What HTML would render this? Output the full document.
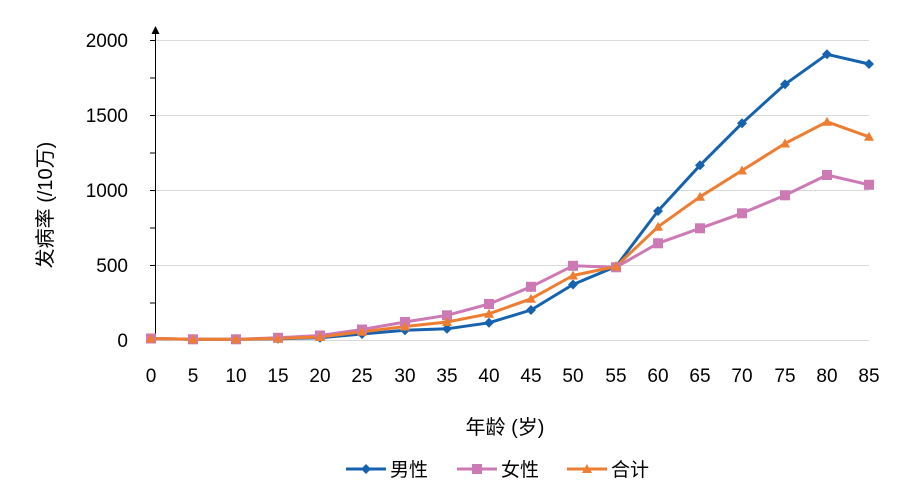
<!DOCTYPE html>
<html><head><meta charset="utf-8"><style>
body{margin:0;background:#fff;}
svg text{font-family:"Liberation Sans","Noto Sans CJK SC",sans-serif;fill:#000;}
</style></head><body>
<svg width="904" height="491" viewBox="0 0 904 491" xmlns="http://www.w3.org/2000/svg">
<rect width="904" height="491" fill="#fff"/>
<g stroke="#d9d9d9" stroke-width="1">
<line x1="155" y1="40.5" x2="869" y2="40.5"/>
<line x1="155" y1="115.5" x2="869" y2="115.5"/>
<line x1="155" y1="190.5" x2="869" y2="190.5"/>
<line x1="155" y1="265.5" x2="869" y2="265.5"/>
<line x1="155" y1="340.5" x2="869" y2="340.5"/>
</g>
<g stroke="#000" stroke-width="1">
<line x1="155.5" y1="30" x2="155.5" y2="340"/>
<line x1="150" y1="40.5" x2="155" y2="40.5"/>
<line x1="150" y1="78" x2="155" y2="78"/>
<line x1="150" y1="115.5" x2="155" y2="115.5"/>
<line x1="150" y1="153" x2="155" y2="153"/>
<line x1="150" y1="190.5" x2="155" y2="190.5"/>
<line x1="150" y1="228" x2="155" y2="228"/>
<line x1="150" y1="265.5" x2="155" y2="265.5"/>
<line x1="150" y1="303" x2="155" y2="303"/>
</g>
<path d="M151.5,34 L155.5,26 L159.5,34 Z" fill="#000"/>
<g font-size="19" text-anchor="end">
<text x="128" y="47">2000</text><text x="128" y="122">1500</text><text x="128" y="197">1000</text><text x="128" y="272">500</text><text x="128" y="347">0</text>
</g>
<g font-size="19" text-anchor="middle">
<text x="151" y="382">0</text><text x="193" y="382">5</text><text x="236" y="382">10</text><text x="278" y="382">15</text><text x="320" y="382">20</text><text x="362" y="382">25</text><text x="405" y="382">30</text><text x="447" y="382">35</text><text x="489" y="382">40</text><text x="531" y="382">45</text><text x="573" y="382">50</text><text x="616" y="382">55</text><text x="658" y="382">60</text><text x="700" y="382">65</text><text x="742" y="382">70</text><text x="785" y="382">75</text><text x="827" y="382">80</text><text x="869" y="382">85</text>
</g>
<text x="505" y="434" font-size="20" text-anchor="middle">年龄 (岁)</text>
<text transform="translate(52,205) rotate(-90)" font-size="20" text-anchor="middle">发病率 (/10万)</text>
<g fill="none" stroke-width="3" stroke-linejoin="round">
<polyline stroke="#1662AE" points="151,338.5 193,339.3 236,339.3 278,338.8 320,337.8 362,334 405,330.3 447,328.8 489,322.8 531,310 573,284.5 616,266.5 658,211 700,165.3 742,123.3 785,84.3 827,54.3 869,64"/>
<polyline stroke="#CC79B4" points="151,338.5 193,339.3 236,339.3 278,337.8 320,335.5 362,329.5 405,322 447,315.3 489,304 531,286.8 573,265.8 616,267.3 658,243.3 700,228.3 742,213.3 785,195.3 827,175 869,184.8"/>
<polyline stroke="#ED7D31" points="151,338.5 193,339.3 236,339.3 278,338.5 320,337 362,331.8 405,326.5 447,322 489,313.8 531,298.8 573,275.5 616,266.5 658,226.8 700,196.8 742,170.5 785,143.5 827,121.8 869,136.8"/>
</g>
<g fill="#1662AE">
<script></script>
</g>
<g id="m"></g>
<g fill="#1662AE">
<path d="M151,333.5l5,5-5,5-5-5zM193,334.3l5,5-5,5-5-5zM236,334.3l5,5-5,5-5-5zM278,333.8l5,5-5,5-5-5zM320,332.8l5,5-5,5-5-5zM362,329l5,5-5,5-5-5zM405,325.3l5,5-5,5-5-5zM447,323.8l5,5-5,5-5-5zM489,317.8l5,5-5,5-5-5zM531,305l5,5-5,5-5-5zM573,279.5l5,5-5,5-5-5zM616,261.5l5,5-5,5-5-5zM658,206l5,5-5,5-5-5zM700,160.3l5,5-5,5-5-5zM742,118.3l5,5-5,5-5-5zM785,79.3l5,5-5,5-5-5zM827,49.3l5,5-5,5-5-5zM869,59l5,5-5,5-5-5z"/>
</g>
<g fill="#CC79B4">
<rect x="146" y="333.5" width="10" height="10"/><rect x="188" y="334.3" width="10" height="10"/><rect x="231" y="334.3" width="10" height="10"/><rect x="273" y="332.8" width="10" height="10"/><rect x="315" y="330.5" width="10" height="10"/><rect x="357" y="324.5" width="10" height="10"/><rect x="400" y="317" width="10" height="10"/><rect x="442" y="310.3" width="10" height="10"/><rect x="484" y="299" width="10" height="10"/><rect x="526" y="281.8" width="10" height="10"/><rect x="568" y="260.8" width="10" height="10"/><rect x="611" y="262.3" width="10" height="10"/><rect x="653" y="238.3" width="10" height="10"/><rect x="695" y="223.3" width="10" height="10"/><rect x="737" y="208.3" width="10" height="10"/><rect x="780" y="190.3" width="10" height="10"/><rect x="822" y="170" width="10" height="10"/><rect x="864" y="179.8" width="10" height="10"/>
</g>
<g fill="#ED7D31">
<path d="M151,333.5l5,9h-10zM193,334.3l5,9h-10zM236,334.3l5,9h-10zM278,333.5l5,9h-10zM320,332l5,9h-10zM362,326.8l5,9h-10zM405,321.5l5,9h-10zM447,317l5,9h-10zM489,308.8l5,9h-10zM531,293.8l5,9h-10zM573,270.5l5,9h-10zM616,261.5l5,9h-10zM658,221.8l5,9h-10zM700,191.8l5,9h-10zM742,165.5l5,9h-10zM785,138.5l5,9h-10zM827,116.8l5,9h-10zM869,131.8l5,9h-10z"/>
</g>
<g font-size="19">
<line x1="346" y1="469" x2="386" y2="469" stroke="#1662AE" stroke-width="3"/>
<path d="M366,464l5,5-5,5-5-5z" fill="#1662AE"/>
<text x="390" y="476">男性</text>
<line x1="457" y1="469" x2="497" y2="469" stroke="#CC79B4" stroke-width="3"/>
<rect x="472" y="464" width="10" height="10" fill="#CC79B4"/>
<text x="501" y="476">女性</text>
<line x1="567" y1="469" x2="607" y2="469" stroke="#ED7D31" stroke-width="3"/>
<path d="M587,464l5,9h-10z" fill="#ED7D31"/>
<text x="611" y="476">合计</text>
</g>
</svg>
</body></html>
